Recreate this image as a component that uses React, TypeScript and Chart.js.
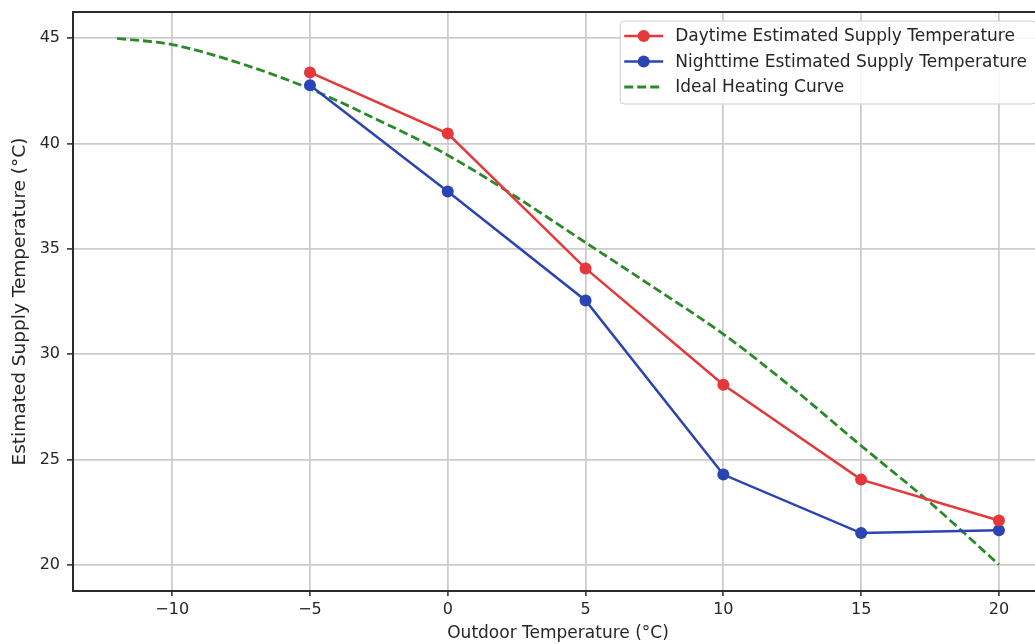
import React, { useEffect, useRef } from 'react';
import { Chart, registerables } from 'chart.js';

Chart.register(...registerables);

// ---- data ----
const outdoorTemps = [-5, 0, 5, 10, 15, 20];
const daytimeSupply = [43.38, 40.48, 34.07, 28.55, 24.04, 22.1];
const nighttimeSupply = [42.77, 37.73, 32.55, 24.28, 21.5, 21.64];
const idealX = [-12, -10, -7.5, -5, -2.5, 0, 2.5, 5, 7.5, 10, 12.5, 15, 17.5, 20];
const idealY = [45.0, 44.7, 43.8, 42.6, 41.1, 39.45, 37.45, 35.3, 33.15, 30.95, 28.4, 25.65, 22.95, 20.0];
const xTicks = [-10, -5, 0, 5, 10, 15, 20];
const yTicks = [20, 25, 30, 35, 40, 45];
const seriesLabels = [
  'Daytime Estimated Supply Temperature',
  'Nighttime Estimated Supply Temperature',
  'Ideal Heating Curve',
];
const xTitle = 'Outdoor Temperature (°C)';
const yTitle = 'Estimated Supply Temperature (°C)';

const FONT = '"DejaVu Sans", "Liberation Sans", sans-serif';
const TEXT = '#262626';

const framePlugin = {
  id: 'mplFrame',
  afterDatasetsDraw(chart: any) {
    const { ctx, chartArea: a } = chart;
    ctx.save();
    ctx.strokeStyle = '#2b2b2b';
    ctx.lineWidth = 2;
    ctx.strokeRect(a.left, a.top, a.right - a.left, a.bottom - a.top);
    ctx.restore();
  },
};

const legendPlugin = {
  id: 'mplLegend',
  afterDraw(chart: any) {
    const { ctx, chartArea: a } = chart;
    ctx.save();
    ctx.font = `17px ${FONT}`;
    const ds = chart.data.datasets;
    const maxW = Math.max(...ds.map((d: any) => ctx.measureText(d.label).width));
    const w = 55 + maxW + 9;
    const right = a.right - 7;
    const left = right - w;
    const top = a.top + 9;
    const h = 83;
    ctx.beginPath();
    (ctx as any).roundRect(left, top, w, h, 4);
    ctx.fillStyle = 'rgba(255,255,255,0.85)';
    ctx.fill();
    ctx.strokeStyle = '#cfcfcf';
    ctx.lineWidth = 1;
    ctx.stroke();
    ds.forEach((d: any, i: number) => {
      const y = top + 15 + i * 25.5;
      ctx.save();
      ctx.strokeStyle = d.borderColor;
      ctx.lineWidth = d.borderWidth;
      ctx.setLineDash(d.borderDash || []);
      ctx.beginPath();
      ctx.moveTo(left + 4, y);
      ctx.lineTo(left + 43, y);
      ctx.stroke();
      ctx.restore();
      if (d.pointRadius > 0) {
        ctx.beginPath();
        ctx.arc(left + 23.5, y, d.pointRadius, 0, Math.PI * 2);
        ctx.fillStyle = d.pointBackgroundColor;
        ctx.fill();
      }
      ctx.fillStyle = TEXT;
      ctx.textBaseline = 'middle';
      ctx.textAlign = 'left';
      ctx.fillText(d.label, left + 55, y + 1);
    });
    ctx.restore();
  },
};

const fmt = (v: any) => String(v).replace('-', '\u2212');

export default function App() {
  const ref = useRef<HTMLCanvasElement>(null);
  useEffect(() => {
    if (!ref.current) return;
    const red = '#e5383b';
    const blue = '#2a45b3';
    const green = '#2a8a2a';
    const chart = new Chart(ref.current, {
      type: 'line',
      data: {
        datasets: [
          {
            label: seriesLabels[0],
            data: outdoorTemps.map((x, i) => ({ x, y: daytimeSupply[i] })),
            borderColor: red,
            backgroundColor: red,
            pointBackgroundColor: red,
            pointBorderColor: red,
            borderWidth: 2.5,
            pointRadius: 6,
            pointBorderWidth: 0,
            tension: 0,
          },
          {
            label: seriesLabels[1],
            data: outdoorTemps.map((x, i) => ({ x, y: nighttimeSupply[i] })),
            borderColor: blue,
            backgroundColor: blue,
            pointBackgroundColor: blue,
            pointBorderColor: blue,
            borderWidth: 2.5,
            pointRadius: 6,
            pointBorderWidth: 0,
            tension: 0,
          },
          {
            label: seriesLabels[2],
            data: idealX.map((x, i) => ({ x, y: idealY[i] })),
            borderColor: green,
            backgroundColor: green,
            pointBackgroundColor: green,
            borderWidth: 2.8,
            borderDash: [9, 4],
            pointRadius: 0,
            cubicInterpolationMode: 'monotone',
          },
        ] as any,
      },
      options: {
        responsive: false,
        animation: false,
        events: [],
        layout: { padding: { top: 12, right: 17, left: 0, bottom: 0 } },
        plugins: { legend: { display: false }, tooltip: { enabled: false } },
        scales: {
          x: {
            type: 'linear',
            min: -13.6,
            max: 21.6,
            afterBuildTicks: (s: any) => {
              s.ticks = xTicks.map((v) => ({ value: v }));
            },
            afterFit: (s: any) => {
              s.height = 53;
              s.paddingLeft = 0;
              s.paddingRight = 0;
            },
            border: { display: false },
            grid: {
              color: '#cccccc',
              lineWidth: 1.8,
              tickColor: '#2b2b2b',
              tickLength: 5,
              tickWidth: 1.5,
            },
            ticks: {
              callback: (v: any) => fmt(v),
              color: TEXT,
              font: { family: FONT, size: 16 },
              padding: 4,
              maxRotation: 0,
            },
            title: {
              display: true,
              text: xTitle,
              color: TEXT,
              font: { family: FONT, size: 17 },
              padding: { top: 0, bottom: 0 },
            },
          },
          y: {
            type: 'linear',
            min: 18.75,
            max: 46.25,
            afterBuildTicks: (s: any) => {
              s.ticks = yTicks.map((v) => ({ value: v }));
            },
            afterFit: (s: any) => {
              s.width = 73;
              s.paddingTop = 0;
              s.paddingBottom = 0;
            },
            border: { display: false },
            grid: {
              color: '#cccccc',
              lineWidth: 1.8,
              tickColor: '#2b2b2b',
              tickLength: 6,
              tickWidth: 1.5,
            },
            ticks: {
              callback: (v: any) => fmt(v),
              color: TEXT,
              font: { family: FONT, size: 16 },
              padding: 7,
            },
            title: {
              display: true,
              text: yTitle,
              color: TEXT,
              font: { family: FONT, size: 18.5 },
              padding: { top: 9, bottom: 0 },
            },
          },
        },
      } as any,
      plugins: [framePlugin, legendPlugin],
    });
    return () => chart.destroy();
  }, []);
  return (
    <div
      style={{
        position: 'fixed',
        left: 0,
        top: 0,
        width: 1035,
        height: 644,
        overflow: 'hidden',
        background: '#fff',
      }}
    >
      <canvas ref={ref} width={1060} height={644} style={{ display: 'block' }} />
    </div>
  );
}
